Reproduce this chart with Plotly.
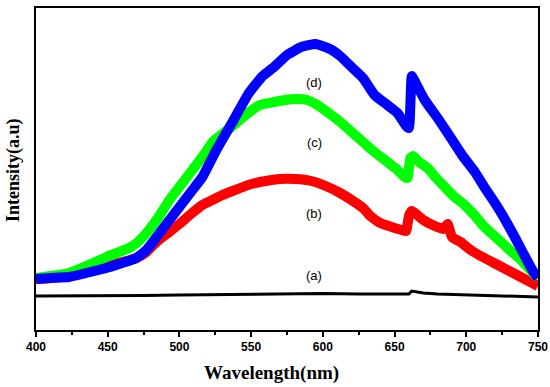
import plotly.graph_objects as go

# ---- data (arbitrary intensity units) ----
wl_a = [400, 425, 450, 475, 500, 525, 550, 575, 600, 625, 650, 660, 662, 665, 670, 680, 700, 725, 750]
int_a = [34, 34, 34, 34.5, 35, 35.5, 36, 36.5, 36.5, 36, 36, 36, 39, 38, 37, 36, 35, 34, 33]

wl_b = [400, 410, 423, 435, 449, 460, 470, 477, 484, 492, 500, 508, 516, 523, 530, 537, 548, 560, 570,
        581, 592, 602, 612, 620, 628, 633, 640, 648, 655, 658, 660, 662, 665, 670, 678, 684, 687, 690,
        696, 703, 710, 718, 726, 734, 742, 750]
int_b = [51, 52, 54, 58, 65, 68, 72, 78, 88, 97, 106, 116, 125, 130, 135, 139, 145, 149, 151,
         151, 149, 144, 137, 130, 122, 114, 107, 103, 100, 99, 114, 119, 116, 110, 104, 101, 106, 93,
         88, 80, 74, 68, 62, 56, 50, 44]

wl_c = [400, 410, 423, 435, 449, 458, 465, 471, 477, 485, 493, 501, 509, 518, 523, 530, 537, 547, 556,
        566, 574, 582, 589, 595, 604, 613, 620, 628, 635, 645, 652, 657, 659, 661, 663, 667, 673, 679,
        685, 691, 698, 705, 712, 718, 725, 731, 738, 746, 750]
int_c = [52, 54, 57, 64, 73, 78, 82, 88, 97, 112, 130, 145, 160, 177, 188, 196, 204, 216, 225,
         228, 230, 231, 230, 226, 217, 207, 198, 188, 179, 168, 160, 153, 152, 172, 174, 168, 162, 152,
         143, 134, 126, 116, 104, 96, 87, 79, 70, 58, 52]

wl_d = [400, 410, 423, 435, 449, 460, 470, 477, 484, 492, 500, 508, 516, 525, 537, 548, 558, 566, 575,
        585, 595, 605, 612, 620, 628, 636, 645, 652, 658, 660, 662, 664, 671, 680, 687, 697, 706, 713,
        720, 726, 733, 740, 746, 750]
int_d = [51, 52, 53, 57, 62, 67, 72, 80, 93, 108, 123, 138, 153, 178, 208, 236, 254, 263, 275,
         283, 286, 281, 274, 263, 252, 235, 225, 217, 204, 202, 254, 249, 230, 212, 197, 175, 158, 142,
         127, 113, 95, 76, 60, 52]

x_ticks = [400, 450, 500, 550, 600, 650, 700, 750]
labels = ["(a)", "(b)", "(c)", "(d)"]
label_x = [594, 594, 594, 594]
label_y = [55, 117, 188, 248]

fig = go.Figure()
fig.add_trace(go.Scatter(x=wl_a, y=int_a, mode="lines", line=dict(color="#000000", width=3)))
fig.add_trace(go.Scatter(x=wl_b, y=int_b, mode="lines",
                         line=dict(color="#FF0000", width=10, shape="spline", smoothing=0.4)))
fig.add_trace(go.Scatter(x=wl_c, y=int_c, mode="lines",
                         line=dict(color="#00FF00", width=10, shape="spline", smoothing=0.4)))
fig.add_trace(go.Scatter(x=wl_d, y=int_d, mode="lines",
                         line=dict(color="#0000FF", width=10, shape="spline", smoothing=0.4)))

for t, lx, ly in zip(labels, label_x, label_y):
    fig.add_annotation(x=lx, y=ly, text=t, showarrow=False,
                       font=dict(family="Liberation Sans", size=13, color="black"))

fig.add_annotation(xref="paper", yref="paper", x=-0.0438, y=0.497, text="Intensity(a.u)",
                   textangle=-90, showarrow=False, xanchor="center", yanchor="middle",
                   font=dict(family="Liberation Serif", size=18, color="black", weight="bold"))
fig.add_annotation(xref="paper", yref="paper", x=0.47, y=-0.1335, text="Wavelength(nm)",
                   showarrow=False, xanchor="center", yanchor="middle",
                   font=dict(family="Liberation Serif", size=19, color="black", weight="bold"))

fig.update_layout(
    width=550, height=384,
    margin=dict(l=36, r=12, t=8, b=54, autoexpand=False),
    paper_bgcolor="white", plot_bgcolor="white",
    showlegend=False,
)
fig.update_xaxes(range=[400, 750], tickvals=x_ticks, ticks="outside", ticklen=5, tickwidth=1.5,
                 tickcolor="black", showline=True, linewidth=2, linecolor="black", mirror=True,
                 showgrid=False, zeroline=False, automargin=False,
                 tickfont=dict(family="Liberation Sans", size=12, color="black", weight="bold"),
                 minor=dict(tickvals=[425, 475, 525, 575, 625, 675, 725], ticks="outside",
                            ticklen=3, tickcolor="black", tickwidth=1.5))
fig.update_yaxes(range=[0, 322], showticklabels=False, ticks="", showline=True, linewidth=2,
                 linecolor="black", mirror=True, showgrid=False, zeroline=False, automargin=False)

fig.write_html("out.html", config={"displayModeBar": False},
               post_script="document.body.style.margin='0';")
